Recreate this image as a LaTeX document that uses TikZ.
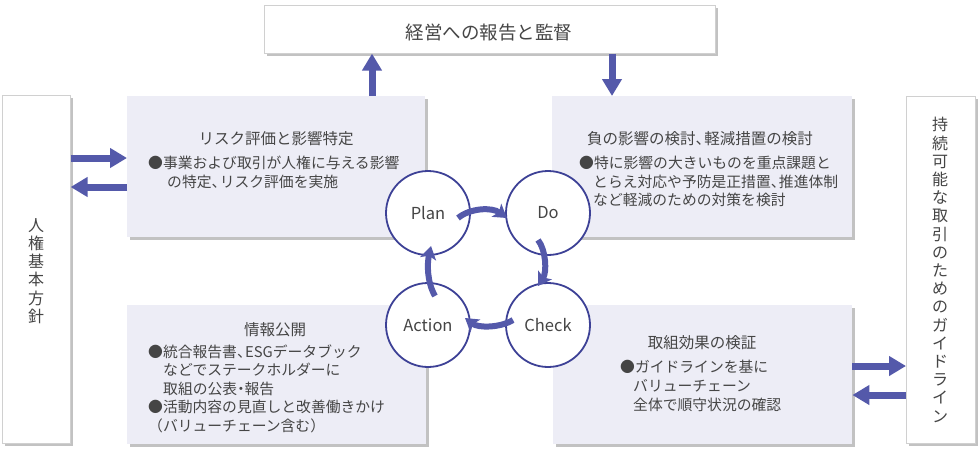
\documentclass[tikz,border=0pt]{standalone}
\usepackage{fontspec}
\setmainfont{Noto Sans CJK JP}
\usetikzlibrary{arrows.meta,shadows,calc}
\definecolor{boxfill}{HTML}{EDEDF6}
\definecolor{arrowblue}{HTML}{5459AA}
\definecolor{circblue}{HTML}{3D4196}
\definecolor{txt}{HTML}{454545}
\definecolor{shade}{HTML}{C2C2C2}
\definecolor{edge}{HTML}{D0D0D0}
\newcommand{\jcomma}{、\kern-0.45em}
\newcommand{\jdot}{\kern-0.25em・\kern-0.25em}
\begin{document}
\begin{tikzpicture}[x=1pt,y=-1pt,
  shadowed/.style={drop shadow={shadow xshift=3pt,shadow yshift=-3pt,fill=shade,opacity=1}},
  whitebox/.style={draw=edge,line width=0.6pt,fill=white,shadowed,anchor=north west,inner sep=0},
  lavbox/.style={fill=boxfill,shadowed,anchor=north west,inner sep=0},
  phase/.style={circle,draw=circblue,line width=1.8pt,fill=white,minimum size=84pt,inner sep=0,text=txt,font=\fontsize{16.5}{16.5}\selectfont},
  bigarrow/.style={line width=7pt,draw=arrowblue,-{Triangle[width=19pt,length=17pt]}},
  cyc/.style={line width=6pt,draw=arrowblue,-{Stealth[width=16pt,length=13pt,inset=3pt]}},
  titletext/.style={anchor=base,inner sep=0,text=txt,font=\fontsize{15.5}{15.5}\selectfont},
  bodytext/.style={anchor=base west,inner sep=0,text=txt,font=\fontsize{14.8}{14.8}\selectfont},
  verttext/.style={align=center,inner sep=0,text=txt,font=\fontsize{16}{18.2}\selectfont}
]
\useasboundingbox (0,0) rectangle (980,448);

% boxes
\node[whitebox,minimum width=451pt,minimum height=48pt] (top) at (264,5) {};
\node[whitebox,minimum width=68pt,minimum height=348pt] (lbox) at (2,95) {};
\node[whitebox,minimum width=69pt,minimum height=347pt] (rbox) at (906,96) {};
\node[lavbox,minimum width=298pt,minimum height=141pt] (risk) at (127,96) {};
\node[lavbox,minimum width=300pt,minimum height=141pt] (mitig) at (552,96) {};
\node[lavbox,minimum width=299pt,minimum height=139pt] (disc) at (127,305) {};
\node[lavbox,minimum width=299pt,minimum height=139pt] (verify) at (553,305) {};

% texts
\node[anchor=base,inner sep=0,text=txt,font=\fontsize{18.5}{18.5}\selectfont] (toptxt) at (489,39) {経営への報告と監督};
\node[verttext] (ltxt) at (36,271) {人\\権\\基\\本\\方\\針};
\node[verttext] (rtxt) at (940,270) {持\\続\\可\\能\\な\\取\\引\\の\\た\\め\\の\\ガ\\イ\\ド\\ラ\\イ\\ン};

\node[titletext] (riskt) at (276,144) {リスク評価と影響特定};
\node[bodytext] (risk1) at (148,168.5) {●事業および取引が人権に与える影響};
\node[bodytext] (risk2) at (167,187.5) {の特定\jcomma リスク評価を実施};

\node[titletext] (mitigt) at (700,144) {負の影響の検討\jcomma 軽減措置の検討};
\node[bodytext] (mitig1) at (579,168.5) {●特に影響の大きいものを重点課題と};
\node[bodytext] (mitig2) at (593,187) {とらえ対応や予防是正措置\jcomma 推進体制};
\node[bodytext] (mitig3) at (593,205.5) {など軽減のための対策を検討};

\node[titletext] (disct) at (275,335) {情報公開};
\node[bodytext] (disc1) at (148,357) {●統合報告書\jcomma ESGデータブック};
\node[bodytext] (disc2) at (163,375.5) {などでステークホルダーに};
\node[bodytext] (disc3) at (163,394) {取組の公表\jdot 報告};
\node[bodytext] (disc4) at (148,412.5) {●活動内容の見直しと改善働きかけ};
\node[bodytext] (disc5) at (148,431) {（バリューチェーン含む）};

\node[titletext] (verifyt) at (702,348) {取組効果の検証};
\node[bodytext] (verify1) at (620,372.5) {●ガイドラインを基に};
\node[bodytext] (verify2) at (633,391) {バリューチェーン};
\node[bodytext] (verify3) at (633,410) {全体で順守状況の確認};

% big arrows
\coordinate (ya) at (0,158);
\coordinate (yb) at (0,187);
\coordinate (yc) at (0,366);
\coordinate (yd) at (0,395);
\coordinate (xa) at (372,0);
\coordinate (xb) at (612,0);
\draw[bigarrow] (lbox.east |- ya) -- (risk.west |- ya);
\draw[bigarrow] (risk.west |- yb) -- (lbox.east |- yb);
\draw[bigarrow] (verify.east |- yc) -- (rbox.west |- yc);
\draw[bigarrow] (rbox.west |- yd) -- (verify.east |- yd);
\draw[bigarrow] (risk.north -| xa) -- (top.south -| xa);
\draw[bigarrow] (top.south -| xb) -- (mitig.north -| xb);

% PDCA circles
\node[phase] (plan) at (428,213) {Plan};
\node[phase] (do) at (548,213) {Do};
\node[phase] (check) at (548,325) {Check};
\node[phase] (action) at (428,325) {Action};

\draw[cyc] ($(plan)+(30,5)$) .. controls ($(plan)+(42,-5)$) and ($(do)+(-56,-6)$) .. ($(do)+(-41,5)$);
\draw[cyc] ($(do)+(-10,27)$) .. controls ($(do)+(-2,37)$) and ($(check)+(-1,-53)$) .. ($(check)+(-10,-39)$);
\draw[cyc] ($(check)+(-35,-5)$) .. controls ($(check)+(-48,3)$) and ($(action)+(50,3)$) .. ($(action)+(37,-7)$);
\draw[cyc] ($(action)+(7,-29)$) .. controls ($(action)+(-1,-43)$) and ($(plan)+(-1,51)$) .. ($(plan)+(3,33)$);
\end{tikzpicture}
\end{document}
